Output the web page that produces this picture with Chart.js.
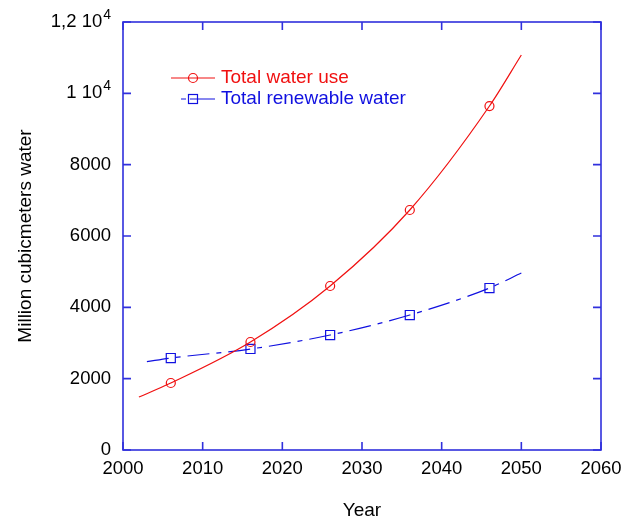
<!DOCTYPE html>
<html>
<head>
<meta charset="utf-8">
<script src="https://cdn.jsdelivr.net/npm/chart.js@4.4.1/dist/chart.umd.min.js"></script>
<style>
html,body{margin:0;padding:0;background:#fff;}
#wrap{width:623px;height:522px;}
</style>
</head>
<body>
<div id="wrap"><canvas id="c" width="623" height="522"></canvas></div>
<script>
// ---- data ----
const useYears = [2002, 2006, 2016, 2026, 2036, 2046, 2050];
const useValues = [1486, 1878, 3028, 4598, 6729, 9644, 11074];
const useMarkers = [0, 1, 1, 1, 1, 1, 0];

const renYears = [2003, 2006, 2016, 2026, 2036, 2046, 2050];
const renValues = [2480, 2579, 2832, 3224, 3785, 4542, 4962];
const renMarkers = [0, 1, 1, 1, 1, 1, 0];

const xTicks = [2000, 2010, 2020, 2030, 2040, 2050, 2060];
const yTicks = [0, 2000, 4000, 6000, 8000, 10000, 12000];
const yTickLabels = [['0',''], ['2000',''], ['4000',''], ['6000',''], ['8000',''], ['1 10','4'], ['1,2 10','4']];

const seriesNames = ['Total water use', 'Total renewable water'];
const RED = '#f01010';
const BLUE = '#1010e0';
const FRAME = '#3030dd';
const FONT = '"Liberation Sans", Arial, sans-serif';
const TICK_SIZE = 18.5;
const TEXT_SIZE = 19;

const toXY = (xs, ys) => xs.map((x, i) => ({x: x, y: ys[i]}));

const framePlugin = {
  id: 'frame',
  afterDraw(chart) {
    const ctx = chart.ctx;
    const a = chart.chartArea;
    const xs = chart.scales.x, ys = chart.scales.y;
    ctx.save();
    ctx.strokeStyle = FRAME;
    ctx.lineWidth = 1.6;
    ctx.strokeRect(a.left, a.top, a.right - a.left, a.bottom - a.top);
    const tl = 8;
    ctx.beginPath();
    xTicks.forEach(v => {
      const px = xs.getPixelForValue(v);
      ctx.moveTo(px, a.bottom); ctx.lineTo(px, a.bottom - tl);
      ctx.moveTo(px, a.top); ctx.lineTo(px, a.top + tl);
    });
    yTicks.forEach(v => {
      const py = ys.getPixelForValue(v);
      ctx.moveTo(a.left, py); ctx.lineTo(a.left + tl, py);
      ctx.moveTo(a.right, py); ctx.lineTo(a.right - tl, py);
    });
    ctx.stroke();

    // y tick labels (with superscript exponent)
    ctx.fillStyle = '#000';
    ctx.textBaseline = 'middle';
    yTicks.forEach((v, i) => {
      const py = ys.getPixelForValue(v);
      const [base, sup] = yTickLabels[i];
      let right = a.left - 12;
      if (sup) {
        ctx.font = '14px ' + FONT;
        ctx.textAlign = 'right';
        ctx.fillText(sup, right, py - 7);
        right -= ctx.measureText(sup).width + 1;
      }
      ctx.font = TICK_SIZE + 'px ' + FONT;
      ctx.textAlign = 'right';
      ctx.fillText(base, right, py);
    });

    // legend
    const l1y = 78, l2y = 99;
    ctx.lineWidth = 1.2;
    ctx.strokeStyle = RED;
    ctx.beginPath(); ctx.moveTo(171, l1y); ctx.lineTo(215, l1y); ctx.stroke();
    ctx.beginPath(); ctx.arc(193, l1y, 4.5, 0, Math.PI * 2); ctx.stroke();
    ctx.strokeStyle = BLUE;
    ctx.beginPath(); ctx.moveTo(181, l2y); ctx.lineTo(186, l2y); ctx.moveTo(190, l2y); ctx.lineTo(215, l2y); ctx.stroke();
    ctx.strokeRect(188.5, l2y - 4.5, 9, 9);
    ctx.font = TEXT_SIZE + 'px ' + FONT;
    ctx.textAlign = 'left';
    ctx.fillStyle = RED; ctx.fillText(seriesNames[0], 221, l1y);
    ctx.fillStyle = BLUE; ctx.fillText(seriesNames[1], 221, l2y);
    ctx.restore();
  }
};

new Chart(document.getElementById('c'), {
  type: 'line',
  data: {
    datasets: [
      {
        label: seriesNames[0],
        data: toXY(useYears, useValues),
        borderColor: RED,
        borderWidth: 1.2,
        pointStyle: 'circle',
        pointRadius: useMarkers.map(m => m ? 4.5 : 0),
        pointBorderColor: RED,
        pointBackgroundColor: 'rgba(0,0,0,0)',
        pointBorderWidth: 1.2,
        cubicInterpolationMode: 'monotone',
        fill: false
      },
      {
        label: seriesNames[1],
        data: toXY(renYears, renValues),
        borderColor: BLUE,
        borderWidth: 1.2,
        borderDash: [22, 7, 5, 7],
        pointStyle: 'rect',
        pointRadius: renMarkers.map(m => m ? 6.4 : 0),
        pointBorderColor: BLUE,
        pointBackgroundColor: 'rgba(0,0,0,0)',
        pointBorderWidth: 1.2,
        cubicInterpolationMode: 'monotone',
        fill: false
      }
    ]
  },
  options: {
    responsive: false,
    animation: false,
    layout: {padding: {top: 22, right: 22, left: 0, bottom: 0}},
    plugins: {legend: {display: false}, tooltip: {enabled: false}},
    scales: {
      x: {
        type: 'linear',
        min: 2000, max: 2060,
        afterBuildTicks: s => { s.ticks = xTicks.map(v => ({value: v})); },
        afterFit: s => { s.height = 72; s.paddingRight = 0; s.paddingLeft = 0; },
        grid: {display: false, drawTicks: false},
        border: {display: false},
        ticks: {
          color: '#000', font: {family: FONT, size: TICK_SIZE}, padding: 8,
          maxRotation: 0, autoSkip: false,
          callback: v => String(v)
        },
        title: {display: true, text: 'Year', color: '#000', font: {family: FONT, size: TEXT_SIZE}, padding: {top: 0, bottom: 0}}
      },
      y: {
        type: 'linear',
        min: 0, max: 12000,
        afterBuildTicks: s => { s.ticks = yTicks.map(v => ({value: v})); },
        afterFit: s => { s.width = 123; s.paddingTop = 0; s.paddingBottom = 0; },
        grid: {display: false, drawTicks: false},
        border: {display: false},
        ticks: {display: false},
        title: {display: true, text: 'Million cubicmeters water', color: '#000', font: {family: FONT, size: TEXT_SIZE}, padding: {top: 14, bottom: 0}}
      }
    }
  },
  plugins: [framePlugin]
});
</script>
</body>
</html>
